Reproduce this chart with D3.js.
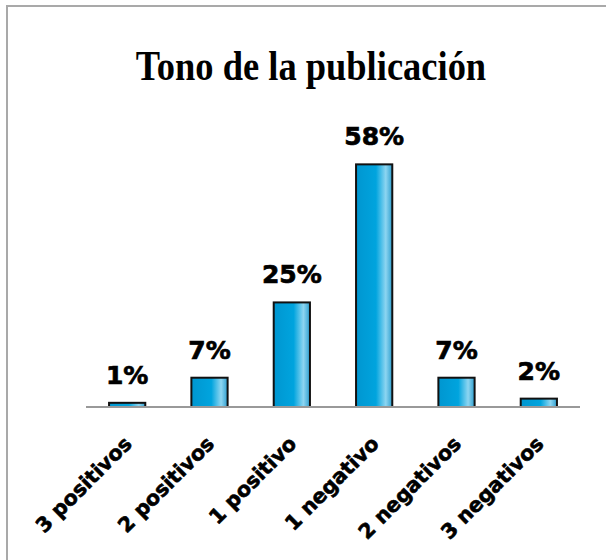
<!DOCTYPE html>
<html>
<head>
<meta charset="utf-8">
<script src="https://cdn.jsdelivr.net/npm/d3@7"></script>
<style>
  body { margin: 0; background: #fff; }
</style>
</head>
<body>
<div id="chart"></div>
<script>
const categories = ['3 positivos', '2 positivos', '1 positivo', '1 negativo', '2 negativos', '3 negativos'];
const values = [1, 7, 25, 58, 7, 2];
const title = 'Tono de la publicación';

const width = 606, height = 560;

const svg = d3.select('#chart').append('svg')
  .attr('width', width)
  .attr('height', height);

// bar gradient (office 3d look)
const defs = svg.append('defs');
const grad = defs.append('linearGradient')
  .attr('id', 'barGrad')
  .attr('x1', '0%').attr('x2', '100%')
  .attr('y1', '0%').attr('y2', '0%');
grad.append('stop').attr('offset', '0%').attr('stop-color', '#0096d0');
grad.append('stop').attr('offset', '55%').attr('stop-color', '#00a4de');
grad.append('stop').attr('offset', '82%').attr('stop-color', '#8dd5f1');
grad.append('stop').attr('offset', '100%').attr('stop-color', '#2e9fcf');

// outer frame
svg.append('rect')
  .attr('x', 7).attr('y', 6)
  .attr('width', 640).attr('height', 620)
  .attr('fill', 'none')
  .attr('stroke', '#a9a9a9')
  .attr('stroke-width', 2);

// title, a bit taller than plain times
svg.append('text')
  .attr('transform', 'translate(311,80) scale(0.96,1.12)')
  .attr('text-anchor', 'middle')
  .style('font-family', '"Liberation Serif", "Times New Roman", serif')
  .style('font-weight', 'bold')
  .style('font-size', '38px')
  .text(title);

let xScale = d3.scaleBand()
  .domain(categories)
  .range([86, 580])
  .paddingInner(0.56)
  .paddingOuter(0.28);

let yScale = d3.scaleLinear()
  .domain([0, 60])
  .range([407, 156]);

// bars
svg.selectAll('.bar')
  .data(values)
  .join('rect')
    .attr('class', 'bar')
    .attr('x', (d, i) => xScale(categories[i]))
    .attr('y', d => yScale(d))
    .attr('width', xScale.bandwidth())
    .attr('height', d => yScale(0) - yScale(d))
    .attr('fill', 'url(#barGrad)')
    .attr('stroke', '#111')
    .attr('stroke-width', 2);

// baseline
svg.append('line')
  .attr('x1', 86).attr('x2', 580)
  .attr('y1', yScale(0)).attr('y2', yScale(0))
  .attr('stroke', '#999')
  .attr('stroke-width', 2);

// value labels
svg.selectAll('.val')
  .data(values)
  .join('text')
    .attr('class', 'val')
    .attr('x', (d, i) => xScale(categories[i]) + xScale.bandwidth() / 2)
    .attr('y', d => yScale(d) - 19)
    .attr('text-anchor', 'middle')
    .style('font-family', 'Verdana, "DejaVu Sans", sans-serif')
    .style('font-weight', 'bold')
    .style('font-size', '25px')
    .style('stroke', '#000')
    .style('stroke-width', 0.7)
    .text(d => d + '%');

// category labels, rotated
svg.selectAll('.cat')
  .data(categories)
  .join('text')
    .attr('class', 'cat')
    .attr('text-anchor', 'end')
    .attr('transform', d => {
      let cx = xScale(d) + xScale.bandwidth() / 2 + 6;
      return 'translate(' + cx + ',445) rotate(-45)';
    })
    .style('font-family', 'Verdana, "DejaVu Sans", sans-serif')
    .style('font-weight', 'bold')
    .style('font-size', '20.5px')
    .style('stroke', '#000')
    .style('stroke-width', 0.6)
    .text(d => d);
</script>
</body>
</html>
